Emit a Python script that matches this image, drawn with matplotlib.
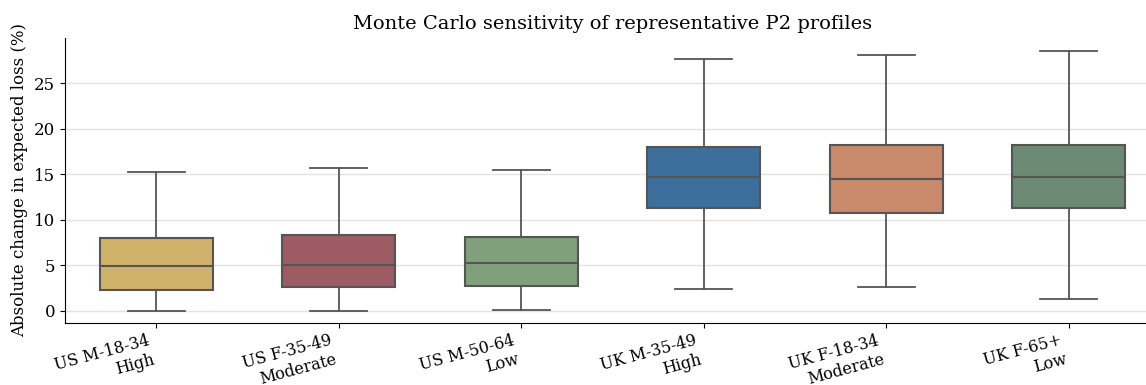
import matplotlib
matplotlib.use("Agg")
import matplotlib.pyplot as plt

plt.rcParams["font.family"] = ["DejaVu Serif"]

# profile labels and box summary statistics (absolute change in expected loss, %)
profiles = ["US M-18-34\nHigh", "US F-35-49\nModerate", "US M-50-64\nLow",
            "UK M-35-49\nHigh", "UK F-18-34\nModerate", "UK F-65+\nLow"]
whislo = [0.0, 0.0, 0.05, 2.36, 2.62, 1.23]
q1 = [2.22, 2.58, 2.69, 11.23, 10.75, 11.26]
med = [4.89, 5.03, 5.19, 14.64, 14.45, 14.70]
q3 = [8.00, 8.33, 8.04, 17.97, 18.15, 18.15]
whishi = [15.19, 15.70, 15.50, 27.70, 28.10, 28.52]
colors = ["#D1B26B", "#9E5B63", "#80A07C", "#3D6F9C", "#C9896B", "#6C8A74"]

stats = []
for i in range(len(profiles)):
    stats.append(dict(label=profiles[i], whislo=whislo[i], q1=q1[i], med=med[i],
                      q3=q3[i], whishi=whishi[i], fliers=[]))

fig = plt.figure(figsize=(11.46, 3.85), dpi=100)
# axes run slightly past the right edge of the canvas
ax = fig.add_axes([65 / 1146, 62 / 385, 1095 / 1146, 285.3 / 385])

edge = "#555555"
bp = ax.bxp(stats, positions=range(len(profiles)), widths=0.62, patch_artist=True,
            showfliers=False,
            boxprops=dict(edgecolor=edge, linewidth=1.5),
            medianprops=dict(color=edge, linewidth=1.5),
            whiskerprops=dict(color=edge, linewidth=1.3),
            capprops=dict(color=edge, linewidth=1.3),
            capwidths=0.31)
for patch, c in zip(bp["boxes"], colors):
    patch.set_facecolor(c)

ax.set_xlim(-0.5, 5.5)
ax.set_ylim(-1.37, 30)
ax.set_yticks([0, 5, 10, 15, 20, 25])
ax.yaxis.grid(True, color="#e3e3e3", linewidth=1)
ax.set_axisbelow(True)
for s in ["top", "right"]:
    ax.spines[s].set_visible(False)

ax.set_xticks(range(len(profiles)))
ax.set_xticklabels(profiles, rotation=15, ha="right", fontsize=11.5)
ax.tick_params(axis="x", pad=3)
ax.tick_params(axis="y", labelsize=12)
ax.set_ylabel("Absolute change in expected loss (%)", fontsize=12)
ax.set_title("Monte Carlo sensitivity of representative P2 profiles", fontsize=14)

fig.savefig("out.png", dpi=100)
